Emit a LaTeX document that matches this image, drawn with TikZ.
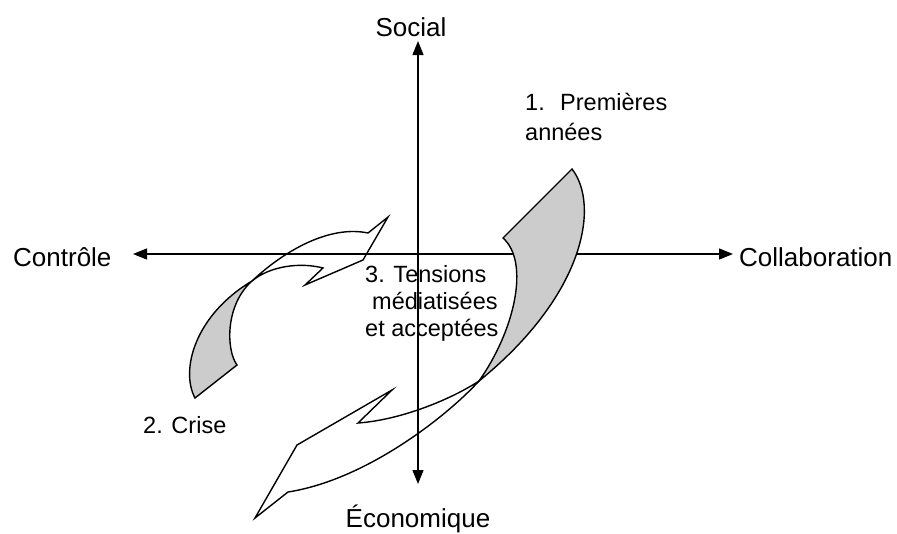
\documentclass[tikz,border=0pt]{standalone}
\usepackage{fontspec}
\setmainfont{Liberation Sans}
\usetikzlibrary{arrows.meta}
\definecolor{backside}{HTML}{CCCCCC}
\tikzset{
  axis/.style={line width=1.3pt,{Triangle[length=14pt,width=11pt]}-{Triangle[length=14pt,width=11pt]}},
  axislabel/.style={font=\fontsize{26}{30}\selectfont,inner sep=0pt},
  label/.style={font=\fontsize{23.5}{28}\selectfont,inner sep=0pt,anchor=base west},
  ribbon/.style={line width=1.4pt,line join=miter},
  backpart/.style={ribbon,fill=backside},
}
\begin{document}
\begin{tikzpicture}[x=1pt,y=-1pt]
\useasboundingbox (0,0) rectangle (897,533);
% axes
\coordinate (top) at (418,41);
\coordinate (bot) at (418,484);
\coordinate (lft) at (133,254);
\coordinate (rgt) at (733,254);
\draw[axis] (bot) -- (top);
\draw[axis] (lft) -- (rgt);
% axis labels
\node[axislabel,anchor=base] (social) at (411,36) {Social};
\node[axislabel,anchor=base west] (controle) at (13,266) {Contrôle};
\node[axislabel,anchor=base west] (collab) at (739,266) {Collaboration};
\node[axislabel,anchor=base] (eco) at (418,527) {Économique};
% curved arrow 1 (right)
\draw[backpart] (503,238) -- (572,169)
  .. controls (600,205) and (585,295) .. (479,381)
  .. controls (515,330) and (530,262) .. cycle;
\draw[ribbon] (479,381) .. controls (445,418) and (365,480) .. (288,492)
  -- (255,518) -- (297,445) -- (392,390) -- (358,423)
  .. controls (400,420) and (450,400) .. cycle;
% curved arrow 2 (left)
\draw[backpart] (195,398) -- (237,365)
  .. controls (226,350) and (225,305) .. (252,281)
  .. controls (195,315) and (180,370) .. cycle;
\draw[ribbon] (252,281) .. controls (285,250) and (330,225) .. (368,233)
  -- (388,217) -- (363,260) -- (305,285) -- (323,268)
  .. controls (300,262) and (270,266) .. cycle;
% labels
\node[label] (one) at (525,110) {1.};
\node[label] (prem) at (560,110) {Premières};
\node[label] (annees) at (525,140) {années};
\node[label] (crise) at (143,433) {2. Crise};
\node[label] (t1) at (365,282) {3. Tensions};
\node[label] (t2) at (372,309) {médiatisées};
\node[label] (t3) at (365,336) {et acceptées};
\end{tikzpicture}
\end{document}
